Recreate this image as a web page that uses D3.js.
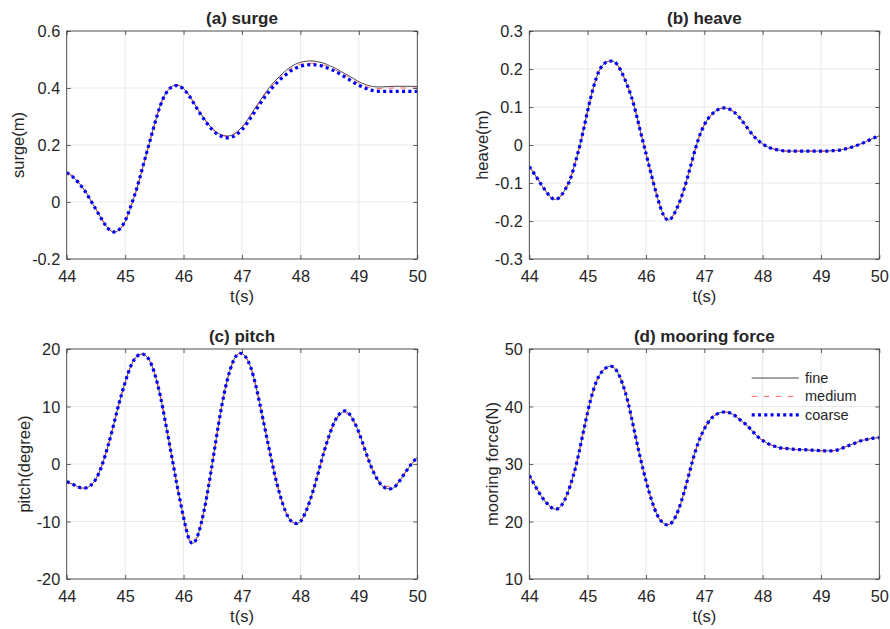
<!DOCTYPE html>
<html>
<head>
<meta charset="utf-8">
<script src="https://cdn.jsdelivr.net/npm/d3@7/dist/d3.min.js"></script>
<style>
  body { margin: 0; background: #fff; }
  svg { display: block; }
  text { font-family: "Liberation Sans", Arial, Helvetica, sans-serif; fill: #262626; }
</style>
</head>
<body>
<svg id="fig" width="890" height="629"></svg>
<script>
// Sample times (s)
const time = [44.0,44.1,44.2,44.3,44.4,44.5,44.6,44.7,44.8,44.9,
              45.0,45.1,45.2,45.3,45.4,45.5,45.6,45.7,45.8,45.9,
              46.0,46.1,46.2,46.3,46.4,46.5,46.6,46.7,46.8,46.9,
              47.0,47.1,47.2,47.3,47.4,47.5,47.6,47.7,47.8,47.9,
              48.0,48.1,48.2,48.3,48.4,48.5,48.6,48.7,48.8,48.9,
              49.0,49.1,49.2,49.3,49.4,49.5,49.6,49.7,49.8,49.9,50.0];

const timeTicks = [44, 45, 46, 47, 48, 49, 50];

// Surge (m)
const surgeFine = [0.104,0.090,0.069,0.043,0.010,-0.025,-0.060,-0.090,-0.105,-0.097,
  -0.068,-0.015,0.046,0.120,0.195,0.270,0.338,0.383,0.405,0.410,
  0.398,0.373,0.340,0.308,0.279,0.256,0.240,0.233,0.233,0.244,
  0.263,0.290,0.322,0.353,0.383,0.410,0.432,0.452,0.469,0.482,
  0.490,0.494,0.495,0.492,0.487,0.478,0.469,0.457,0.446,0.434,
  0.422,0.413,0.407,0.404,0.404,0.405,0.406,0.406,0.406,0.406,0.405];
const surgeMedium = [0.104,0.090,0.069,0.043,0.010,-0.025,-0.060,-0.090,-0.105,-0.097,
  -0.068,-0.015,0.046,0.120,0.195,0.270,0.338,0.383,0.405,0.410,
  0.398,0.373,0.340,0.307,0.278,0.255,0.238,0.231,0.231,0.242,
  0.261,0.288,0.319,0.350,0.379,0.405,0.427,0.446,0.463,0.475,
  0.483,0.487,0.487,0.485,0.480,0.472,0.463,0.451,0.440,0.428,
  0.416,0.407,0.401,0.399,0.398,0.399,0.400,0.400,0.400,0.400,0.400];
const surgeCoarse = [0.103,0.089,0.068,0.042,0.009,-0.026,-0.061,-0.091,-0.105,-0.096,
  -0.066,-0.013,0.048,0.122,0.196,0.270,0.337,0.382,0.404,0.408,
  0.396,0.371,0.338,0.305,0.276,0.252,0.235,0.227,0.226,0.236,
  0.254,0.280,0.311,0.342,0.371,0.397,0.419,0.438,0.455,0.468,
  0.476,0.481,0.482,0.480,0.475,0.467,0.458,0.446,0.434,0.421,
  0.410,0.400,0.393,0.389,0.388,0.388,0.388,0.388,0.388,0.388,0.388];
const surgeTicks = [-0.2, 0, 0.2, 0.4, 0.6];

// Heave (m)
const heaveFine = [-0.057,-0.079,-0.103,-0.125,-0.141,-0.140,-0.121,-0.090,-0.040,0.020,
  0.090,0.152,0.196,0.216,0.221,0.213,0.186,0.149,0.101,0.039,
  -0.022,-0.083,-0.140,-0.184,-0.197,-0.176,-0.140,-0.092,-0.036,0.016,
  0.053,0.076,0.090,0.097,0.096,0.088,0.073,0.053,0.032,0.015,
  0.003,-0.006,-0.011,-0.014,-0.016,-0.016,-0.016,-0.016,-0.016,-0.016,
  -0.016,-0.016,-0.015,-0.014,-0.011,-0.007,-0.002,0.004,0.011,0.018,0.024];
const heaveMedium = [-0.057,-0.079,-0.103,-0.125,-0.141,-0.140,-0.121,-0.090,-0.040,0.020,
  0.090,0.152,0.196,0.216,0.221,0.213,0.186,0.149,0.101,0.039,
  -0.022,-0.083,-0.140,-0.184,-0.197,-0.176,-0.140,-0.092,-0.036,0.016,
  0.053,0.076,0.090,0.097,0.096,0.088,0.073,0.053,0.032,0.015,
  0.003,-0.006,-0.011,-0.014,-0.016,-0.016,-0.016,-0.016,-0.016,-0.016,
  -0.016,-0.016,-0.015,-0.014,-0.011,-0.007,-0.002,0.004,0.011,0.018,0.024];
const heaveCoarse = [-0.057,-0.079,-0.103,-0.125,-0.141,-0.140,-0.121,-0.090,-0.040,0.020,
  0.090,0.152,0.196,0.216,0.221,0.213,0.186,0.149,0.101,0.039,
  -0.022,-0.083,-0.140,-0.184,-0.197,-0.176,-0.140,-0.092,-0.036,0.016,
  0.053,0.076,0.090,0.097,0.096,0.088,0.073,0.053,0.032,0.015,
  0.003,-0.006,-0.011,-0.014,-0.016,-0.016,-0.016,-0.016,-0.016,-0.016,
  -0.016,-0.016,-0.015,-0.014,-0.011,-0.007,-0.002,0.004,0.011,0.018,0.024];
const heaveTicks = [-0.3, -0.2, -0.1, 0, 0.1, 0.2, 0.3];

// Pitch (degree)
const pitchFine = [-3.1,-3.5,-4.0,-4.2,-3.8,-2.6,-0.3,2.9,6.7,10.7,
  14.2,17.1,18.7,19.1,18.3,15.9,11.9,6.7,1.2,-4.3,
  -9.3,-13.2,-13.4,-10.4,-5.5,0.6,7.0,12.5,16.5,18.8,
  19.2,18.0,15.1,10.7,5.8,0.9,-3.5,-7.0,-9.4,-10.3,
  -10.0,-8.1,-5.2,-1.7,2.0,5.2,7.7,8.9,9.0,7.7,
  5.5,2.6,-0.2,-2.4,-3.8,-4.3,-4.1,-2.9,-1.4,0.0,1.2];
const pitchMedium = [-3.1,-3.5,-4.0,-4.2,-3.8,-2.6,-0.3,2.9,6.7,10.7,
  14.2,17.1,18.7,19.1,18.3,15.9,11.9,6.7,1.2,-4.3,
  -9.3,-13.2,-13.4,-10.4,-5.5,0.6,7.0,12.5,16.5,18.8,
  19.2,18.0,15.1,10.7,5.8,0.9,-3.5,-7.0,-9.4,-10.3,
  -10.0,-8.1,-5.2,-1.7,2.0,5.0,7.5,8.6,8.7,7.5,
  5.4,2.6,-0.2,-2.3,-3.6,-3.9,-3.8,-2.8,-1.4,0.0,1.2];
const pitchCoarse = [-3.1,-3.5,-4.0,-4.2,-3.8,-2.6,-0.3,2.9,6.7,10.7,
  14.2,17.1,18.7,19.1,18.3,15.9,11.9,6.7,1.2,-4.3,
  -9.3,-13.2,-13.4,-10.4,-5.5,0.6,7.0,12.5,16.5,18.8,
  19.2,18.0,15.1,10.7,5.8,0.9,-3.5,-7.0,-9.4,-10.3,
  -10.0,-8.1,-5.2,-1.7,2.0,5.2,7.7,9.0,9.1,7.7,
  5.5,2.6,-0.2,-2.4,-3.8,-4.3,-4.1,-2.9,-1.4,0.0,1.2];
const pitchTicks = [-20, -10, 0, 10, 20];

// Mooring force (N)
const mooringFine = [28.0,26.2,24.5,23.2,22.3,22.3,23.6,26.2,29.7,34.3,
  39.0,42.9,45.4,46.6,47.0,46.2,43.9,40.4,35.8,31.2,
  27.1,23.6,21.0,19.7,19.5,20.7,23.3,26.8,30.6,33.8,
  36.1,37.7,38.6,39.0,39.0,38.6,37.8,37.0,36.0,34.9,
  34.1,33.5,33.1,32.8,32.7,32.6,32.5,32.5,32.4,32.4,
  32.3,32.3,32.3,32.5,32.9,33.3,33.7,34.1,34.3,34.5,34.6];
const mooringMedium = [28.0,26.2,24.5,23.2,22.3,22.3,23.6,26.2,29.7,34.3,
  39.0,42.9,45.4,46.6,47.0,46.2,43.9,40.4,35.8,31.2,
  27.1,23.6,21.0,19.7,19.5,20.7,23.3,26.8,30.6,33.8,
  36.1,37.7,38.6,39.0,39.0,38.6,37.8,37.0,36.0,34.9,
  34.1,33.5,33.1,32.8,32.7,32.6,32.5,32.5,32.4,32.4,
  32.3,32.3,32.3,32.5,32.9,33.3,33.7,34.1,34.3,34.5,34.6];
const mooringCoarse = [28.0,26.2,24.5,23.2,22.3,22.3,23.6,26.2,29.7,34.3,
  39.0,42.9,45.4,46.6,47.0,46.2,43.9,40.4,35.8,31.2,
  27.1,23.6,21.0,19.7,19.5,20.7,23.3,26.8,30.6,33.8,
  36.1,37.7,38.6,39.0,39.0,38.6,37.8,37.0,36.0,34.9,
  34.1,33.5,33.1,32.8,32.7,32.6,32.5,32.5,32.4,32.4,
  32.3,32.3,32.3,32.5,32.9,33.3,33.7,34.1,34.3,34.5,34.6];
const mooringTicks = [10, 20, 30, 40, 50];

const seriesNames = ["fine", "medium", "coarse"];

// Line styles for the three mesh resolutions
const styles = [
  { stroke: "#1a1a1a", width: 0.8, dash: null },
  { stroke: "#ff4040", width: 0.8, dash: "5.5,6.5" },
  { stroke: "#0000ff", width: 3.2, dash: "3,3.3" }
];

const panels = [
  { title: "(a) surge", ylabel: "surge(m)", ticks: surgeTicks,
    series: [surgeFine, surgeMedium, surgeCoarse], box: [66.7, 31, 417.3, 259], ylabOff: 48 },
  { title: "(b) heave", ylabel: "heave(m)", ticks: heaveTicks,
    series: [heaveFine, heaveMedium, heaveCoarse], box: [529.3, 31, 879.3, 259], ylabOff: 47 },
  { title: "(c) pitch", ylabel: "pitch(degree)", ticks: pitchTicks,
    series: [pitchFine, pitchMedium, pitchCoarse], box: [66.7, 349, 417.3, 579], ylabOff: 42 },
  { title: "(d) mooring force", ylabel: "mooring force(N)", ticks: mooringTicks,
    series: [mooringFine, mooringMedium, mooringCoarse], box: [529.3, 349, 879.3, 579], ylabOff: 37,
    legend: true }
];

const svg = d3.select("#fig");
const fmt = d => String(d);

panels.forEach((p, pi) => {
  const [x0, y0, x1, y1] = p.box;
  const x = d3.scaleLinear().domain(d3.extent(timeTicks)).range([x0, x1]);
  const y = d3.scaleLinear().domain(d3.extent(p.ticks)).range([y1, y0]);
  const g = svg.append("g");

  // grid
  const grid = g.append("g").attr("stroke", "#e3e3e3").attr("stroke-width", 0.8);
  grid.selectAll(".gx").data(timeTicks.slice(1, -1)).join("line")
    .attr("x1", d => x(d)).attr("x2", d => x(d)).attr("y1", y0).attr("y2", y1);
  grid.selectAll(".gy").data(p.ticks.slice(1, -1)).join("line")
    .attr("y1", d => y(d)).attr("y2", d => y(d)).attr("x1", x0).attr("x2", x1);

  // data lines
  const clipId = "clip" + pi;
  svg.append("clipPath").attr("id", clipId).append("rect")
    .attr("x", x0).attr("y", y0 - 2).attr("width", x1 - x0).attr("height", y1 - y0 + 4);
  const line = d3.line()
    .x((d, i) => x(time[i]))
    .y(d => y(d))
    .curve(d3.curveNatural);
  const lines = g.append("g").attr("clip-path", `url(#${clipId})`);
  p.series.forEach((s, si) => {
    const st = styles[si];
    lines.append("path")
      .datum(s)
      .attr("d", line)
      .attr("fill", "none")
      .attr("stroke", st.stroke)
      .attr("stroke-width", st.width)
      .attr("stroke-dasharray", st.dash)
      .attr("stroke-linejoin", "round");
  });

  // axes (ticks point inward on all four sides)
  const axColor = "#3a3a3a";
  const xb = g.append("g").attr("transform", `translate(0,${y1})`)
    .call(d3.axisBottom(x).tickValues(timeTicks).tickFormat(fmt).tickSizeInner(-4).tickSizeOuter(0).tickPadding(11.5));
  const xt = g.append("g").attr("transform", `translate(0,${y0})`)
    .call(d3.axisTop(x).tickValues(timeTicks).tickFormat("").tickSizeInner(-4).tickSizeOuter(0));
  const yl = g.append("g").attr("transform", `translate(${x0},0)`)
    .call(d3.axisLeft(y).tickValues(p.ticks).tickFormat(fmt).tickSizeInner(-4).tickSizeOuter(0).tickPadding(6.5));
  const yr = g.append("g").attr("transform", `translate(${x1},0)`)
    .call(d3.axisRight(y).tickValues(p.ticks).tickFormat("").tickSizeInner(-4).tickSizeOuter(0));
  [xb, xt, yl, yr].forEach(a => {
    a.select(".domain").remove();
    a.selectAll("line").attr("stroke", axColor).attr("stroke-width", 0.8);
    a.selectAll("text").attr("font-size", 16.3).attr("fill", "#262626")
      .style("font-family", '"Liberation Sans", Arial, Helvetica, sans-serif');
  });
  yl.selectAll("text").attr("dy", "0.34em");

  // box
  g.append("rect").attr("x", x0).attr("y", y0).attr("width", x1 - x0).attr("height", y1 - y0)
    .attr("fill", "none").attr("stroke", axColor).attr("stroke-width", 0.9);

  // title
  g.append("text").attr("x", (x0 + x1) / 2).attr("y", y0 - 7)
    .attr("text-anchor", "middle").attr("font-size", 17).attr("font-weight", "bold")
    .attr("fill", "#000").text(p.title);

  // x label
  g.append("text").attr("x", (x0 + x1) / 2).attr("y", y1 + 43)
    .attr("text-anchor", "middle").attr("font-size", 16.5).text("t(s)");

  // y label
  g.append("text")
    .attr("transform", `translate(${x0 - p.ylabOff},${(y0 + y1) / 2}) rotate(-90)`)
    .attr("text-anchor", "middle").attr("dy", "0.35em").attr("font-size", 16.5)
    .text(p.ylabel);

  // legend
  if (p.legend) {
    const lg = g.append("g");
    seriesNames.forEach((name, i) => {
      const st = styles[i];
      const ly = y0 + 29 + i * 18.4;
      lg.append("line").attr("x1", x1 - 127.6).attr("x2", x1 - 80.5).attr("y1", ly).attr("y2", ly)
        .attr("stroke", st.stroke).attr("stroke-width", st.width).attr("stroke-dasharray", st.dash);
      lg.append("text").attr("x", x1 - 74.3).attr("y", ly).attr("dy", "0.35em")
        .attr("font-size", 14.5).text(name);
    });
  }
});
</script>
</body>
</html>
